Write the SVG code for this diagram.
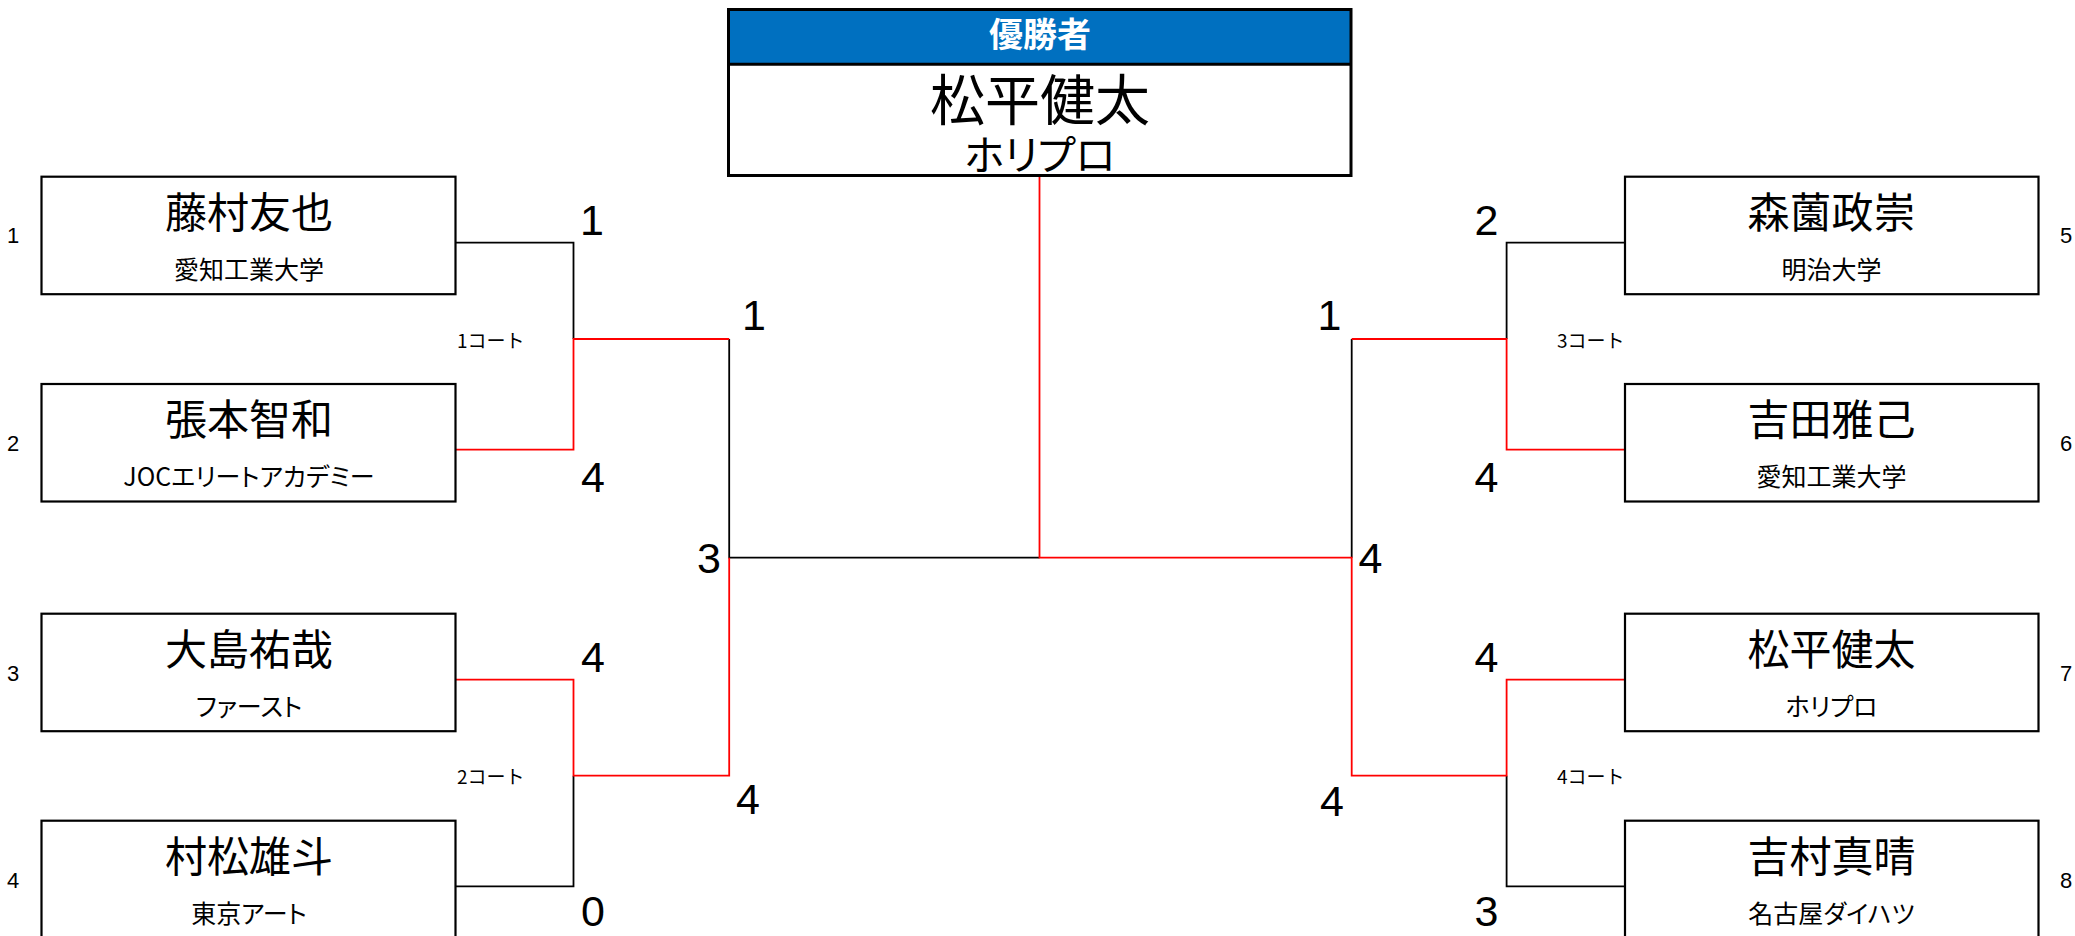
<svg xmlns="http://www.w3.org/2000/svg" width="2075" height="936" viewBox="0 0 2075 936">
<style>
.bg{fill:#ffffff}
.box{fill:#ffffff;stroke:#000000;stroke-width:2.2}
.jp{font-family:"Noto Sans CJK JP","Noto Sans",sans-serif;font-feature-settings:"palt";fill:#000000;text-anchor:middle;dominant-baseline:central}
.name{font-size:42px}
.aff{font-size:25px}
.court{font-size:19px;text-anchor:start;font-feature-settings:normal}
.num{font-family:"Liberation Sans",Arial,sans-serif;fill:#000000;text-anchor:middle}
.seed{font-size:22px}
.score{font-size:43px}
.blk{fill:none;stroke:#000000;stroke-width:1.8}
.red{fill:none;stroke:#ff0000;stroke-width:1.8}
</style>
<rect class="bg" x="0" y="0" width="2075" height="936"/>

<g id="connectors">
  <path class="blk" d="M455.5,242.7 H573.5 V339"/>
  <path class="blk" d="M455.5,886.3 H573.5 V775.7"/>
  <path class="blk" d="M729.2,339 V557.7 H1039.5"/>
  <path class="blk" d="M1351.7,339 V557.7"/>
  <path class="blk" d="M1625,242.7 H1506.6 V339"/>
  <path class="blk" d="M1625,886.3 H1506.6 V775.7"/>
  <path class="red" d="M455.5,449.7 H573.5 V339 H729.2"/>
  <path class="red" d="M455.5,679.7 H573.5 V775.7 H729.2 V557.7"/>
  <path class="red" d="M1039.5,176.7 V557.7 H1351.7 V775.7 H1506.6 V679.7 H1625"/>
  <path class="red" d="M1351.7,339 H1506.6 V449.7 H1625"/>
</g>

<g id="champion">
  <rect x="728.5" y="9.5" width="622.5" height="166" fill="#ffffff" stroke="none"/>
  <rect x="728.5" y="9.5" width="622.5" height="54.5" fill="#0070c0"/>
  <line x1="728.5" y1="64.2" x2="1351" y2="64.2" stroke="#000000" stroke-width="3"/>
  <rect x="728.5" y="9.5" width="622.5" height="166" fill="none" stroke="#000000" stroke-width="3"/>
  <text class="jp" x="1040" y="32" style="font-size:34px;font-weight:bold;fill:#ffffff">優勝者</text>
  <text class="jp"><tspan x="1040" y="96" style="font-size:55px">松平健太</tspan><tspan x="1040" y="151.5" style="font-size:41px">ホリプロ</tspan></text>
</g>

<g id="p1">
  <rect class="box" x="41.5" y="176.7" width="414" height="117.5"/>
  <text class="jp name" x="249" y="209">藤村友也</text>
  <text class="jp aff" x="249" y="267.5">愛知工業大学</text>
  <text class="num seed" x="13" y="243">1</text>
</g>
<g id="p2">
  <rect class="box" x="41.5" y="384" width="414" height="117.5"/>
  <text class="jp name" x="249" y="416.3">張本智和</text>
  <text class="jp aff" x="249" y="474.8">JOCエリートアカデミー</text>
  <text class="num seed" x="13" y="450.5">2</text>
</g>
<g id="p3">
  <rect class="box" x="41.5" y="613.7" width="414" height="117.5"/>
  <text class="jp name" x="249" y="646">大島祐哉</text>
  <text class="jp aff" x="249" y="705">ファースト</text>
  <text class="num seed" x="13" y="680.5">3</text>
</g>
<g id="p4">
  <rect class="box" x="41.5" y="820.7" width="414" height="117.5"/>
  <text class="jp name" x="249" y="853">村松雄斗</text>
  <text class="jp aff" x="249" y="911.5">東京アート</text>
  <text class="num seed" x="13" y="887.5">4</text>
</g>
<g id="p5">
  <rect class="box" x="1625" y="176.7" width="413.5" height="117.5"/>
  <text class="jp name" x="1831.5" y="209">森薗政崇</text>
  <text class="jp aff" x="1831.5" y="267.5">明治大学</text>
  <text class="num seed" x="2066" y="243">5</text>
</g>
<g id="p6">
  <rect class="box" x="1625" y="384" width="413.5" height="117.5"/>
  <text class="jp name" x="1831.5" y="416.3">吉田雅己</text>
  <text class="jp aff" x="1831.5" y="474.8">愛知工業大学</text>
  <text class="num seed" x="2066" y="450.5">6</text>
</g>
<g id="p7">
  <rect class="box" x="1625" y="613.7" width="413.5" height="117.5"/>
  <text class="jp name" x="1831.5" y="646">松平健太</text>
  <text class="jp aff" x="1831.5" y="705">ホリプロ</text>
  <text class="num seed" x="2066" y="680.5">7</text>
</g>
<g id="p8">
  <rect class="box" x="1625" y="820.7" width="413.5" height="117.5"/>
  <text class="jp name" x="1831.5" y="853">吉村真晴</text>
  <text class="jp aff" x="1831.5" y="911.5">名古屋ダイハツ</text>
  <text class="num seed" x="2066" y="887.5">8</text>
</g>

<g id="courts">
  <text class="jp court" x="457" y="339">1コート</text>
  <text class="jp court" x="457" y="775.5">2コート</text>
  <text class="jp court" x="1557" y="339">3コート</text>
  <text class="jp court" x="1557" y="775.5">4コート</text>
</g>

<g id="scores">
  <text class="num score" x="592" y="235">1</text>
  <text class="num score" x="593" y="492">4</text>
  <text class="num score" x="593" y="672">4</text>
  <text class="num score" x="593" y="926">0</text>
  <text class="num score" x="754" y="330">1</text>
  <text class="num score" x="709" y="573">3</text>
  <text class="num score" x="748" y="814">4</text>
  <text class="num score" x="1486.5" y="235">2</text>
  <text class="num score" x="1486.5" y="492">4</text>
  <text class="num score" x="1486.5" y="672">4</text>
  <text class="num score" x="1486.5" y="926">3</text>
  <text class="num score" x="1329.5" y="330">1</text>
  <text class="num score" x="1370.5" y="573">4</text>
  <text class="num score" x="1332" y="816">4</text>
</g>
</svg>
